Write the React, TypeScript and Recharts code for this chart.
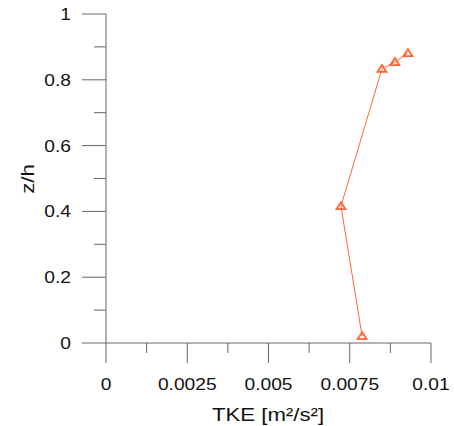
import { ScatterChart, Scatter, XAxis, YAxis } from 'recharts';

// TKE profile (x) against normalised height (y)
const tkeValues = [0.00788, 0.00723, 0.00849, 0.00889, 0.00929];
const zhValues = [0.021, 0.416, 0.833, 0.854, 0.881];

const xTickValues = [0, 0.00125, 0.0025, 0.00375, 0.005, 0.00625, 0.0075, 0.00875, 0.01];
const xTickLabels = ['0', '', '0.0025', '', '0.005', '', '0.0075', '', '0.01'];
const yTickValues = [0, 0.1, 0.2, 0.3, 0.4, 0.5, 0.6, 0.7, 0.8, 0.9, 1];
const yTickLabels = ['0', '', '0.2', '', '0.4', '', '0.6', '', '0.8', '', '1'];

const points = tkeValues.map((tke, i) => ({ tke, zh: zhValues[i] }));

const AXIS_COLOR = '#666666';
const SERIES_COLOR = '#ff6633';
const FONT = '"Liberation Sans", Arial, sans-serif';

function XTick({ x, y, payload }: any) {
  const i = xTickValues.indexOf(payload.value);
  const major = i % 2 === 0;
  return (
    <g>
      <line x1={x} y1={y} x2={x} y2={y + (major ? 20 : 10)} stroke={AXIS_COLOR} strokeWidth={1} />
      {major && (
        <text
          transform={`translate(${x},${y + 47}) scale(1.2,1)`}
          textAnchor="middle"
          fontFamily={FONT}
          fontSize={16}
          fill="#111"
        >
          {xTickLabels[i]}
        </text>
      )}
    </g>
  );
}

function YTick({ x, y, payload }: any) {
  const i = yTickValues.indexOf(payload.value);
  const major = i % 2 === 0;
  return (
    <g>
      <line x1={x} y1={y} x2={x - (major ? 24 : 12)} y2={y} stroke={AXIS_COLOR} strokeWidth={1} />
      {major && (
        <text
          transform={`translate(${x - 35},${y + 6}) scale(1.2,1)`}
          textAnchor="end"
          fontFamily={FONT}
          fontSize={16}
          fill="#111"
        >
          {yTickLabels[i]}
        </text>
      )}
    </g>
  );
}

function Triangle({ cx, cy }: any) {
  return (
    <polygon
      points={`${cx},${cy - 4} ${cx + 4.5},${cy + 3} ${cx - 4.5},${cy + 3}`}
      fill="none"
      stroke={SERIES_COLOR}
      strokeWidth={1.8}
    />
  );
}

export default function App() {
  return (
    <div style={{ position: 'absolute', left: 0, top: 0, width: 454, height: 426, background: '#fff' }}>
      <ScatterChart width={454} height={426} margin={{ top: 14, right: 23, bottom: 0, left: 0 }}>
        <XAxis
          type="number"
          dataKey="tke"
          domain={[0, 0.01]}
          ticks={xTickValues}
          interval={0}
          height={83}
          tickSize={0}
          tickMargin={0}
          tickLine={false}
          tick={<XTick />}
          axisLine={{ stroke: AXIS_COLOR, strokeWidth: 1 }}
          allowDataOverflow
        />
        <YAxis
          type="number"
          dataKey="zh"
          domain={[0, 1]}
          ticks={yTickValues}
          interval={0}
          width={106}
          tickSize={0}
          tickMargin={0}
          tickLine={false}
          tick={<YTick />}
          axisLine={{ stroke: AXIS_COLOR, strokeWidth: 1 }}
          allowDataOverflow
        />
        <Scatter
          data={points}
          line={{ stroke: SERIES_COLOR, strokeWidth: 1 }}
          lineType="joint"
          shape={<Triangle />}
          isAnimationActive={false}
        />
        <text
          transform="translate(268,421) scale(1.2,1)"
          textAnchor="middle"
          fontFamily={FONT}
          fontSize={18.5}
          fill="#111"
        >
          TKE [m²/s²]
        </text>
        <text
          transform="translate(34,179) rotate(-90) scale(1.2,1)"
          textAnchor="middle"
          fontFamily={FONT}
          fontSize={18.5}
          fill="#111"
        >
          z/h
        </text>
      </ScatterChart>
    </div>
  );
}
